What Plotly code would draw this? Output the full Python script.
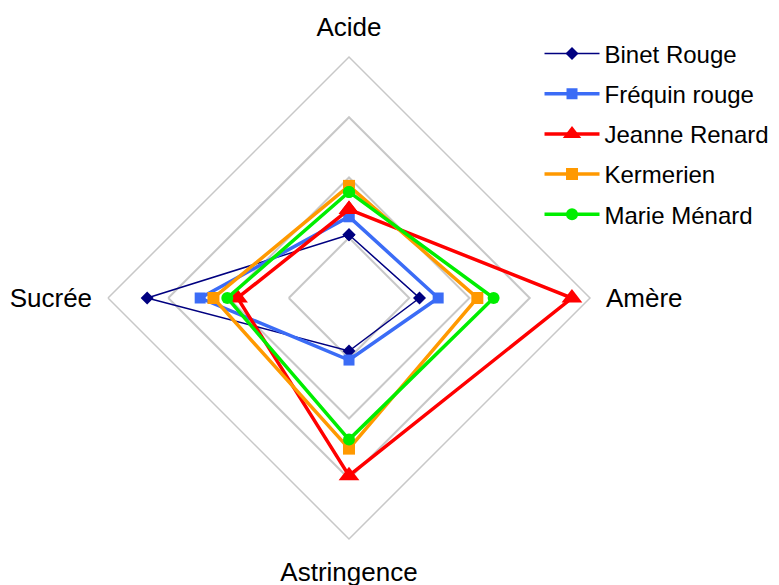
import plotly.graph_objects as go

axes = ["Acide", "Amère", "Astringence", "Sucrée"]
series_names = ["Binet Rouge", "Fréquin rouge", "Jeanne Renard", "Kermerien", "Marie Ménard"]
binet = [1.05, 1.17, 0.88, 3.35]
frequin = [1.35, 1.48, 1.03, 2.47]
jeanne = [1.47, 3.7, 2.95, 1.85]
kermerien = [1.86, 2.13, 2.5, 2.25]
marie = [1.76, 2.4, 2.35, 2.02]

values = [binet, frequin, jeanne, kermerien, marie]
colors = ["#000080", "#3b6cf6", "#ff0000", "#ff9900", "#00ee00"]
symbols = ["diamond", "square", "triangle-up", "square", "circle"]
msizes = [10, 11, 18, 12, 12]
widths = [1.5, 3.5, 3.5, 3.5, 3.5]

fig = go.Figure()
for i, (name, vals) in enumerate(zip(series_names, values)):
    fig.add_trace(go.Scatterpolar(
        r=vals + vals[:1], theta=axes + axes[:1], mode="lines+markers", name=name,
        legendgroup=name,
        line=dict(color=colors[i], width=widths[i]),
        marker=dict(symbol=symbols[i], size=msizes[i], color=colors[i]),
    ))

W, H = 779, 585
cx, cy, R = 341, 290, 241
fig.update_layout(
    width=W, height=H,
    margin=dict(l=0, r=0, t=0, b=0),
    paper_bgcolor="white", plot_bgcolor="white",
    font=dict(family="Liberation Sans, Arial", size=24, color="#000000"),
    polar=dict(
        domain=dict(x=[(cx - R) / W, (cx + R) / W], y=[(H - cy - R) / H, (H - cy + R) / H]),
        gridshape="linear",
        bgcolor="white",
        radialaxis=dict(range=[0, 4], dtick=1, showticklabels=False, ticks="",
                        showline=False, gridcolor="#c8c8c8", gridwidth=1.5),
        angularaxis=dict(rotation=90, direction="clockwise", showgrid=False,
                         showline=True, linecolor="#c8c8c8", linewidth=1.5,
                         ticks="outside", ticklen=10, tickcolor="rgba(0,0,0,0)",
                         tickfont=dict(size=26)),
    ),
    legend=dict(x=0.6823, y=0.96, xanchor="left", yanchor="top", tracegroupgap=6,
                itemwidth=55, font=dict(size=24), bgcolor="rgba(0,0,0,0)"),
)
fig.write_html("out.html")
